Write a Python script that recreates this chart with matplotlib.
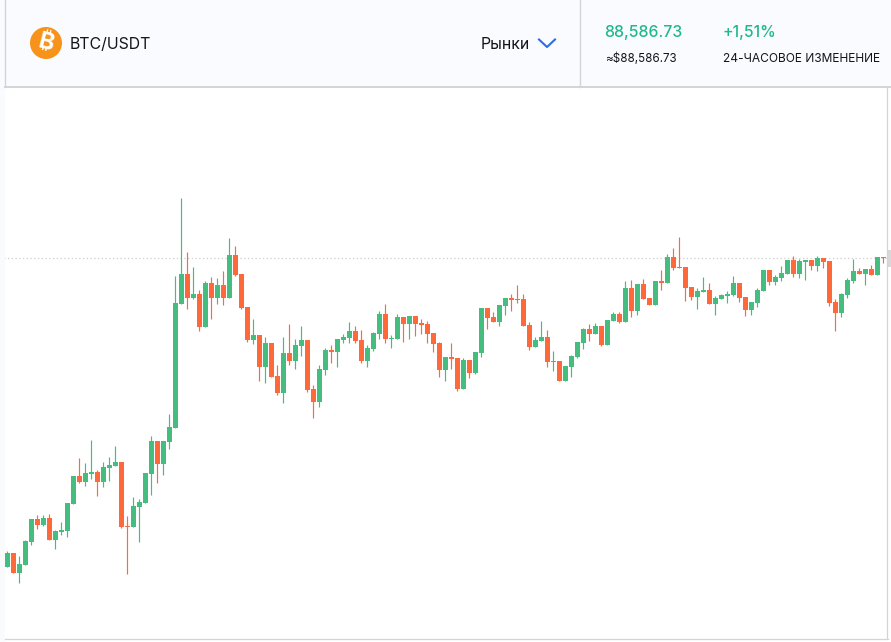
import matplotlib
matplotlib.use('Agg')
import matplotlib.pyplot as plt
from matplotlib.patches import Circle, Rectangle

# candles, values are pixel rows of the reference (smaller = higher price)
direction = ("GRGGGRGRGG" "GGRGGRGGGR" "RGGGGRGGGG" "RGRGRGRGRR" "RGRGRRGRGG"
             "RRGGRGGGRR" "GGGRGGRGRR" "RRRGRRGRGG" "RRGGRRRRGG" "RGRGGGGRGR"
             "GGRGRGRRGR" "GRRRRGGRGG" "GGRRGGGRGG" "GRGGRGRRRG" "GGRGRGR")
body_top = [553, 553, 564, 541, 519, 519, 518, 518, 531, 530, 503, 476, 476, 473, 472, 472, 467, 465, 462, 462,
            526, 506, 502, 473, 441, 441, 441, 427, 303, 274, 274, 294, 294, 283, 283, 285, 285, 255, 255, 274,
            307, 335, 335, 343, 343, 376, 353, 353, 345, 340, 340, 389, 369, 350, 350, 339, 337, 331, 331, 340,
            348, 333, 314, 314, 338, 317, 317, 316, 316, 323, 324, 333, 343, 357, 357, 358, 360, 360, 352, 308,
            308, 317, 305, 298, 298, 299, 299, 325, 340, 337, 337, 361, 361, 366, 356, 342, 329, 329, 326, 326,
            320, 314, 314, 288, 288, 284, 284, 298, 281, 281, 257, 257, 267, 267, 287, 291, 290, 290, 298, 295,
            294, 283, 283, 297, 302, 290, 270, 270, 277, 273, 260, 260, 261, 260, 260, 258, 258, 261, 302, 294,
            280, 271, 271, 269, 269, 257, 257]
body_bottom = [567, 573, 573, 565, 542, 525, 525, 540, 540, 532, 531, 504, 482, 482, 474, 482, 482, 468, 466, 527,
               527, 527, 507, 503, 474, 464, 464, 442, 428, 304, 298, 298, 327, 327, 298, 298, 298, 298, 275, 308,
               340, 340, 367, 367, 377, 393, 393, 361, 361, 346, 390, 402, 402, 370, 352, 352, 340, 338, 341, 361,
               361, 349, 334, 339, 339, 339, 324, 324, 324, 325, 334, 344, 370, 370, 359, 389, 389, 373, 373, 353,
               318, 322, 322, 306, 300, 300, 326, 347, 347, 341, 362, 362, 381, 381, 367, 357, 343, 334, 334, 345,
               345, 321, 322, 322, 311, 311, 299, 305, 305, 283, 283, 268, 268, 288, 297, 297, 292, 304, 304, 299,
               296, 295, 298, 310, 310, 303, 291, 282, 282, 278, 274, 274, 274, 262, 266, 266, 262, 303, 313, 313,
               295, 281, 274, 274, 275, 275, 258]
wick_top = [551, 553, 556, 540, 519, 515, 515, 514, 530, 522, 503, 476, 458, 463, 440, 470, 462, 457, 446, 462,
            516, 497, 499, 473, 436, 441, 441, 414, 276, 198, 252, 267, 290, 281, 277, 278, 271, 238, 246, 274,
            307, 319, 335, 337, 343, 365, 337, 324, 339, 326, 340, 385, 365, 348, 345, 339, 334, 322, 326, 330,
            345, 332, 311, 304, 335, 314, 317, 316, 316, 319, 321, 333, 342, 357, 343, 358, 358, 360, 352, 308,
            308, 312, 305, 298, 294, 285, 294, 322, 337, 321, 330, 351, 361, 366, 355, 342, 328, 324, 323, 326,
            320, 312, 312, 281, 280, 284, 279, 298, 281, 270, 254, 248, 237, 267, 287, 288, 277, 283, 296, 294,
            291, 276, 283, 297, 302, 288, 270, 270, 275, 266, 260, 256, 259, 260, 260, 256, 258, 261, 299, 293,
            278, 259, 268, 269, 265, 257, 257]
wick_bottom = [567, 573, 583, 565, 545, 529, 526, 540, 549, 535, 537, 504, 483, 486, 479, 496, 487, 481, 466, 528,
               574, 527, 542, 503, 495, 483, 475, 449, 428, 304, 309, 299, 331, 327, 319, 304, 305, 298, 276, 309,
               342, 344, 381, 383, 377, 395, 403, 365, 369, 356, 392, 418, 407, 375, 363, 367, 343, 343, 343, 363,
               367, 351, 339, 343, 348, 339, 342, 339, 336, 334, 343, 352, 377, 381, 369, 391, 389, 378, 374, 357,
               329, 322, 326, 315, 311, 303, 326, 350, 347, 341, 367, 371, 381, 381, 377, 358, 349, 341, 334, 346,
               345, 321, 323, 322, 317, 315, 299, 305, 305, 290, 283, 270, 268, 301, 300, 309, 292, 304, 315, 299,
               303, 296, 302, 316, 315, 307, 291, 285, 285, 281, 274, 277, 278, 280, 270, 271, 268, 306, 331, 317,
               298, 283, 274, 285, 275, 275, 263]

pair_name = "BTC/USDT"
markets_label = "Рынки"
last_price = "88,586.73"
last_price_usd = "≈$88,586.73"
change_pct = "+1,51%"
change_label = "24-ЧАСОВОЕ ИЗМЕНЕНИЕ"
last_row = 258

plt.rcParams['font.family'] = ['Inter', 'DejaVu Sans']

GREEN = '#45bd7f'
RED = '#ff6839'
fig = plt.figure(figsize=(8.91, 6.42), dpi=100, facecolor='white')

# chart area: x is candle number, one candle every 6 px
ax = fig.add_axes([0, 0, 1, 1])
ax.set_xlim(-7.4 / 6, (891 - 7.4) / 6)
ax.set_ylim(642, 0)
ax.axis('off')
ax.axhline(last_row, color='#cfcfcf', lw=0.9, ls=(0, (1, 2)), zorder=1)
for i, d in enumerate(direction):
    c = GREEN if d == 'G' else RED
    ax.plot([i, i], [wick_top[i], wick_bottom[i]], color=c, lw=0.85, solid_capstyle='butt', zorder=2)
    ax.bar(i, body_bottom[i] - body_top[i], bottom=body_top[i], width=5 / 6, color=c, lw=0, zorder=3)

# page chrome on top, in pixels
ui = fig.add_axes([0, 0, 1, 1], facecolor='none')
ui.set_xlim(0, 891)
ui.set_ylim(642, 0)
ui.axis('off')
PANEL = '#f9fbff'
BORDER = '#d4d4d6'
ui.add_patch(Rectangle((0, 0), 5, 642, fc=PANEL, lw=0))
ui.add_patch(Rectangle((0, 0), 891, 87, fc=PANEL, lw=0))
ui.plot([5.4, 5.4], [0, 87], color=BORDER, lw=1)
ui.plot([580.4, 580.4], [0, 87], color=BORDER, lw=1)
ui.plot([5, 891], [87.2, 87.2], color=BORDER, lw=1.4)
ui.plot([887.4, 887.4], [88, 639], color=BORDER, lw=0.9)
ui.plot([5, 888], [638.5, 638.5], color=BORDER, lw=0.9)
ui.add_patch(Rectangle((887, 250), 4, 17, fc='#d8d8da', lw=0))

ui.add_patch(Circle((46, 43), 16, fc='#f7931a', lw=0))
ui.text(46, 43.5, "₿", color='white', fontsize=17, fontweight='bold', rotation=-14,
        ha='center', va='center', family=['Inter', 'Noto Sans', 'Roboto', 'Open Sans', 'Lato', 'DejaVu Sans'])
ui.text(70, 44.5, pair_name, fontsize=11.4, color='#14151a', va='center')
ui.text(481, 44.5, markets_label, fontsize=11.4, color='#14151a', va='center')
ui.plot([539, 547, 555], [39.5, 47, 39.5], color='#2f6bea', lw=1.5)
ui.text(604.5, 32.5, last_price, fontsize=11.4, color='#1fb98b', va='center', fontweight='medium')
ui.text(605, 59, last_price_usd, fontsize=8.4, color='#14151a', va='center')
ui.text(723, 32.5, change_pct, fontsize=11.4, color='#1fb98b', va='center', fontweight='medium')
ui.text(723, 59, change_label, fontsize=8.6, color='#14151a', va='center')

fig.savefig('out.png', dpi=100)
